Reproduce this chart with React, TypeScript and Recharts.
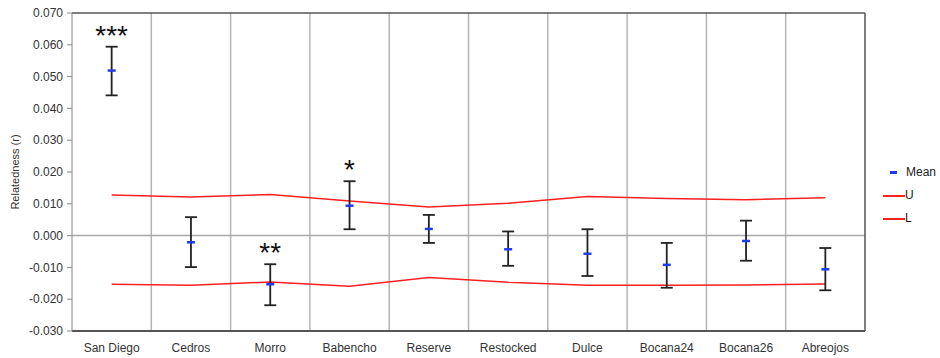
import React from "react";
import {
  ComposedChart,
  Line,
  XAxis,
  YAxis,
  ErrorBar,
  ReferenceLine,
  Legend,
  LabelList,
} from "recharts";

const sites = [
  "San Diego",
  "Cedros",
  "Morro",
  "Babencho",
  "Reserve",
  "Restocked",
  "Dulce",
  "Bocana24",
  "Bocana26",
  "Abreojos",
];
const meanR = [0.0519, -0.0021, -0.0153, 0.0094, 0.0021, -0.0043, -0.0057, -0.0092, -0.0017, -0.0106];
const ciLow = [0.0441, -0.0099, -0.0219, 0.002, -0.0023, -0.0095, -0.0127, -0.0164, -0.0079, -0.0172];
const ciHigh = [0.0594, 0.0058, -0.009, 0.0171, 0.0065, 0.0013, 0.002, -0.0023, 0.0047, -0.0039];
const upperU = [0.0128, 0.0121, 0.0129, 0.0109, 0.009, 0.0102, 0.0123, 0.0117, 0.0113, 0.0119];
const lowerL = [-0.0153, -0.0156, -0.0146, -0.0159, -0.0132, -0.0147, -0.0156, -0.0156, -0.0155, -0.0152];
const signif = ["***", "", "**", "*", "", "", "", "", "", ""];
const yTicks = [-0.03, -0.02, -0.01, 0, 0.01, 0.02, 0.03, 0.04, 0.05, 0.06, 0.07];

const FONT = "'Liberation Sans', Arial, sans-serif";

const data = sites.map((site, i) => ({
  x: i + 0.5,
  site,
  mean: meanR[i],
  err: [meanR[i] - ciLow[i], ciHigh[i] - meanR[i]],
  top: ciHigh[i],
  sig: signif[i],
  U: upperU[i],
  L: lowerL[i],
}));

const xTicks = sites.map((_, i) => i + 0.5);
const borders = sites.slice(1).map((_, i) => i + 1);

const MeanDash = (props: any) => {
  const { cx, cy } = props;
  if (cx == null || cy == null) return null;
  return <rect x={cx - 4} y={cy - 1.25} width={8} height={2.5} fill="#1f3cf0" />;
};

const LegendBox = () => (
  <div style={{ fontFamily: FONT, fontSize: 12, color: "#222", lineHeight: "23px" }}>
    <div style={{ display: "flex", alignItems: "center" }}>
      <span style={{ display: "inline-block", width: 7, height: 3, background: "#1f3cf0", marginLeft: 7, marginRight: 9 }} />
      <span>Mean</span>
    </div>
    {["U", "L"].map((k) => (
      <div key={k} style={{ display: "flex", alignItems: "center" }}>
        <span style={{ display: "inline-block", width: 22, height: 2, background: "#ff2020" }} />
        <span>{k}</span>
      </div>
    ))}
  </div>
);

export default function App() {
  return (
    <div style={{ position: "absolute", left: 0, top: 0, width: 940, height: 358, background: "#fff" }}>
      <ComposedChart
        width={940}
        height={358}
        data={data}
        margin={{ top: 13, right: 75, bottom: 0, left: 12 }}
      >
        <XAxis
          dataKey="x"
          type="number"
          domain={[0, sites.length]}
          ticks={xTicks}
          interval={0}
          tickFormatter={(v: number) => sites[Math.round(v - 0.5)]}
          tickLine={false}
          axisLine={{ stroke: "#555", strokeWidth: 2 }}
          tick={{ fill: "#333", fontSize: 12, fontFamily: FONT }}
          tickMargin={6}
          height={27}
        />
        <YAxis
          type="number"
          domain={[-0.03, 0.07]}
          ticks={yTicks}
          interval={0}
          tickFormatter={(v: number) => v.toFixed(3)}
          axisLine={{ stroke: "#888" }}
          tickLine={{ stroke: "#888" }}
          tickSize={5}
          tickMargin={4}
          tick={{ fill: "#333", fontSize: 12, fontFamily: FONT }}
          width={60}
          label={{
            value: "Relatedness (r)",
            angle: -90,
            position: "insideLeft",
            dx: -2,
            dy: 0,
            style: { fill: "#333", fontSize: 11, fontFamily: FONT, textAnchor: "middle" },
          }}
        />
        {borders.map((b) => (
          <ReferenceLine key={b} x={b} stroke="#b5b5b5" strokeWidth={1.5} />
        ))}
        <ReferenceLine y={0} stroke="#a8a8a8" strokeWidth={1.5} />
        <ReferenceLine y={0.07} stroke="#555" strokeWidth={1.5} />
        <ReferenceLine x={sites.length} stroke="#555" strokeWidth={1.5} />
        <Legend
          layout="vertical"
          align="center"
          verticalAlign="middle"
          content={<LegendBox />}
          wrapperStyle={{ left: 883, top: 161, width: 57 }}
        />
        <Line
          dataKey="U"
          name="U"
          type="linear"
          stroke="#ff2020"
          strokeWidth={1.5}
          dot={false}
          isAnimationActive={false}
        />
        <Line
          dataKey="L"
          name="L"
          type="linear"
          stroke="#ff2020"
          strokeWidth={1.5}
          dot={false}
          isAnimationActive={false}
        />
        <Line
          dataKey="top"
          stroke="none"
          dot={false}
          activeDot={false}
          legendType="none"
          isAnimationActive={false}
        >
          <LabelList
            dataKey="sig"
            position="top"
            offset={2}
            style={{ fill: "#111", fontSize: 28, fontFamily: FONT }}
          />
        </Line>
        <Line
          dataKey="mean"
          name="Mean"
          stroke="none"
          dot={<MeanDash />}
          activeDot={false}
          isAnimationActive={false}
        >
          <ErrorBar dataKey="err" direction="y" width={6} stroke="#222" strokeWidth={1.8} />
        </Line>
      </ComposedChart>
    </div>
  );
}
